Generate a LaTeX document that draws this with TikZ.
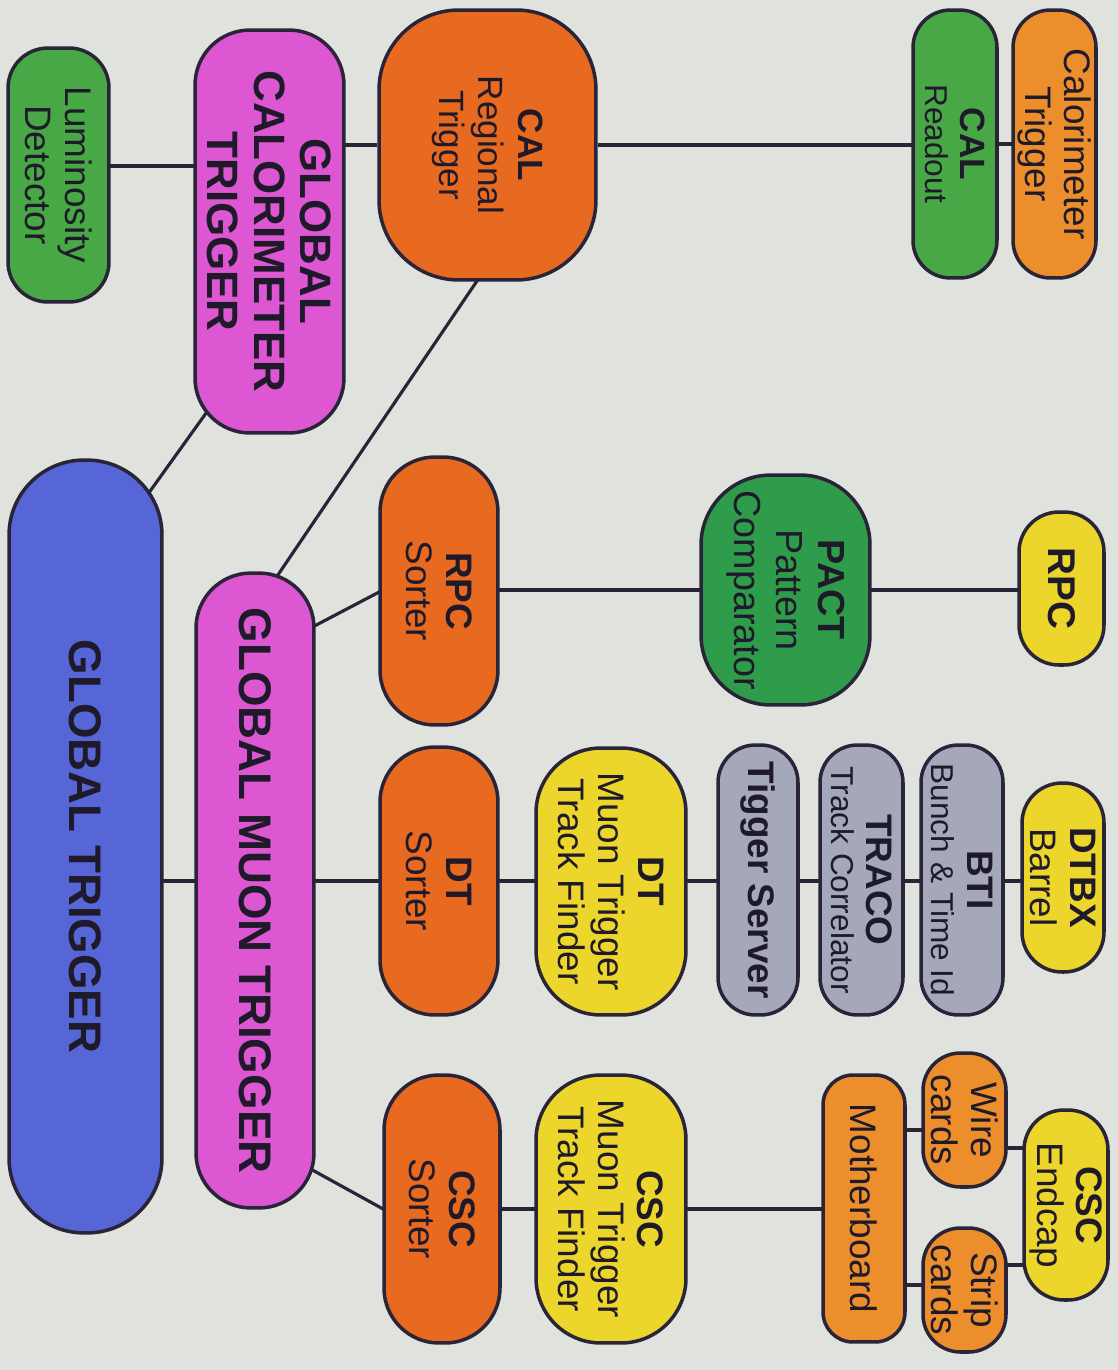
\documentclass[tikz,border=0pt]{standalone}
\usepackage{fontspec}
\setmainfont{Liberation Sans}
\usetikzlibrary{calc,backgrounds}

\definecolor{paper}{HTML}{E0E2DE}
\definecolor{edgecol}{HTML}{2A2438}
\definecolor{inkcol}{HTML}{1F1A2A}
\definecolor{trigblue}{HTML}{5666D6}
\definecolor{globmag}{HTML}{DD57D3}
\definecolor{lumgreen}{HTML}{48A845}
\definecolor{pactgreen}{HTML}{2E9C4A}
\definecolor{sortorange}{HTML}{E86A20}
\definecolor{cardorange}{HTML}{EC8E2C}
\definecolor{chamyellow}{HTML}{EDD62C}
\definecolor{servgrey}{HTML}{A5A8BA}

\newcommand\LblFont{\fontsize{21}{22.5}\selectfont}
\newcommand\BigFont{\fontsize{26}{27}\selectfont\bfseries}
\newcommand\SmallFont{\fontsize{18}{20}\selectfont}

\tikzset{
  block/.style={
    shape = rectangle,
    draw = edgecol,
    line width = 2pt,
    rotate = -90,
    align = center,
    inner sep = 0pt,
    text = inkcol,
    font = \LblFont
  },
}
\tikzset{
  dims/.style 2 args={
    minimum height = #1,
    minimum width = #2
  },
  link/.style={
    draw = edgecol,
    line width = 1.8pt
  }
}

\begin{document}
\begin{tikzpicture}[x=0.02cm, y=-0.02cm]
    \begin{scope}[on background layer]
    \fill[paper] (0,0) rectangle (1118,1370);
    \end{scope}
    \useasboundingbox (0,0) rectangle (1118,1370);

    % global level
    \node[block, fill=trigblue, dims={3.06cm}{15.46cm}, rounded corners=1.5cm, font=\BigFont] (gt) at (85.5,846.5) {GLOBAL TRIGGER};
    \node[block, fill=globmag, dims={2.98cm}{8.06cm}, rounded corners=1.1cm, font=\fontsize{25}{26.5}\selectfont\bfseries] (gct) at (269.5,231.5) {GLOBAL\\CALORIMETER\\TRIGGER};
    \node[block, fill=globmag, dims={2.36cm}{12.7cm}, rounded corners=1.1cm, font=\BigFont] (gmt) at (255,890.5) {GLOBAL MUON TRIGGER};
    \node[block, fill=lumgreen, dims={2.02cm}{5.08cm}, rounded corners=0.8cm] (lumi) at (58.5,175) {Luminosity\\Detector};

    % calorimeter branch
    \node[block, fill=sortorange, dims={4.34cm}{5.4cm}, rounded corners=1.6cm, font=\fontsize{20}{22.5}\selectfont] (calreg) at (487.5,145) {\textbf{CAL}\\Regional\\Trigger};
    \node[block, fill=lumgreen, dims={1.68cm}{5.36cm}, rounded corners=0.75cm, font=\fontsize{20}{20}\selectfont] (calro) at (955,144) {\textbf{CAL}\\\SmallFont Readout};
    \node[block, fill=cardorange, dims={1.66cm}{5.36cm}, rounded corners=0.75cm] (caltrig) at (1054.5,144) {Calorimeter\\Trigger};

    % sorters
    \node[block, fill=sortorange, dims={2.36cm}{5.36cm}, rounded corners=1.1cm] (rpcsort) at (439,591) {\textbf{RPC}\\Sorter};
    \node[block, fill=sortorange, dims={2.36cm}{5.36cm}, rounded corners=1.1cm] (dtsort) at (439,881) {\textbf{DT}\\Sorter};
    \node[block, fill=sortorange, dims={2.32cm}{5.36cm}, rounded corners=1.1cm] (cscsort) at (442,1209) {\textbf{CSC}\\Sorter};

    % RPC branch
    \node[block, fill=pactgreen, dims={3.38cm}{4.6cm}, rounded corners=1.4cm, font=\fontsize{21.5}{24}\selectfont] (pact) at (785.5,590) {\textbf{PACT}\\Pattern\\Comparator};
    \node[block, fill=chamyellow, dims={1.7cm}{3.06cm}, rounded corners=0.8cm, font=\fontsize{22}{24}\selectfont\bfseries] (rpc) at (1061.5,588.5) {RPC};

    % DT branch
    \node[block, fill=chamyellow, dims={3.0cm}{5.34cm}, rounded corners=1.3cm] (dttf) at (611,881.5) {\textbf{DT}\\Muon Trigger\\Track Finder};
    \node[block, fill=servgrey, dims={1.6cm}{5.4cm}, rounded corners=0.75cm, font=\LblFont\bfseries] (ts) at (758,880) {Tigger Server};
    \node[block, fill=servgrey, dims={1.66cm}{5.4cm}, rounded corners=0.75cm, font=\fontsize{21}{20}\selectfont] (traco) at (861.5,880) {\textbf{TRACO}\\\SmallFont Track Correlator};
    \node[block, fill=servgrey, dims={1.64cm}{5.4cm}, rounded corners=0.75cm, font=\fontsize{21}{20}\selectfont] (bti) at (962,880) {\textbf{BTI}\\\SmallFont Bunch \& Time Id};
    \node[block, fill=chamyellow, dims={1.64cm}{3.78cm}, rounded corners=0.8cm] (dtbx) at (1063,877.5) {\textbf{DTBX}\\Barrel};

    % CSC branch
    \node[block, fill=chamyellow, dims={3.0cm}{5.36cm}, rounded corners=1.3cm] (csctf) at (611,1209) {\textbf{CSC}\\Muon Trigger\\Track Finder};
    \node[block, fill=cardorange, dims={1.64cm}{5.34cm}, rounded corners=0.6cm] (mb) at (864,1208.5) {Motherboard};
    \node[block, fill=cardorange, dims={1.66cm}{2.68cm}, rounded corners=0.75cm] (wire) at (964.5,1120) {Wire\\cards};
    \node[block, fill=cardorange, dims={1.66cm}{2.48cm}, rounded corners=0.75cm] (strip) at (964.5,1290) {Strip\\cards};
    \node[block, fill=chamyellow, dims={1.68cm}{3.8cm}, rounded corners=0.8cm] (endcap) at (1066,1205) {\textbf{CSC}\\Endcap};

    \path (lumi) ++(0,-9) coordinate (lumiR);
    \path (wire) ++(0,10) coordinate (wireL) ++(0,18) coordinate (wireR);
    \path (strip) ++(0,-25) coordinate (stripR) ++(0,20) coordinate (stripL);

    \begin{scope}[on background layer]
    \draw[link] (lumiR) -- (lumiR -| gct);
    \draw[link] (calreg) -- (calreg -| gct);
    \draw[link] (calreg) -- (calreg -| calro);
    \draw[link] (calro) -- (calro -| caltrig);

    \draw[link] ($(gct.south east)+(26,-40)$) -- ($(gt.north west)+(-26,50)$);
    \draw[link] ($(calreg.south east)+(129,-44)$) -- ($(gmt.north west)+(-55,29)$);
    \draw[link] ($(gmt.north west)+(-21,65)$) -- ($(rpcsort.south)+(20,-9)$);
    \draw[link] ($(gmt.north east)+(-22,-50)$) -- ($(cscsort.south)+(19,10)$);

    \foreach \a/\b in {rpcsort/pact, pact/rpc}
        \draw[link] (pact -| \a) -- (pact -| \b);
    \foreach \a/\b in {gt/gmt, gmt/dtsort, dtsort/dttf, dttf/ts, ts/traco, traco/bti, bti/dtbx}
        \draw[link] (dtsort -| \a) -- (dtsort -| \b);
    \foreach \a/\b in {cscsort/csctf, csctf/mb}
        \draw[link] (cscsort -| \a) -- (cscsort -| \b);

    \draw[link] (wireL) -- (wireL -| mb);
    \draw[link] (wireR) -- (wireR -| endcap);
    \draw[link] (stripR) -- (stripR -| endcap);
    \draw[link] (stripL) -- (stripL -| mb);
    \end{scope}
\end{tikzpicture}
\end{document}
